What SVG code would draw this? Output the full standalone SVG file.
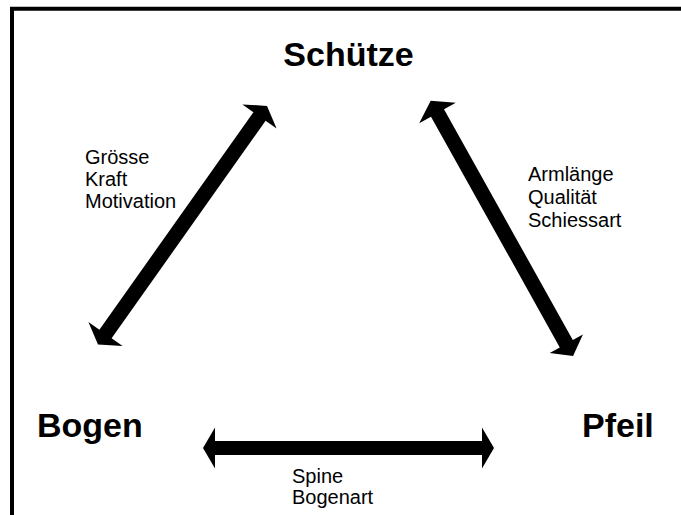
<svg xmlns="http://www.w3.org/2000/svg" width="681" height="515" viewBox="0 0 681 515">
<style>
.title{font-family:"Liberation Sans",Arial,sans-serif;font-size:34px;font-weight:bold;fill:#000}
.lbl{font-family:"Liberation Sans",Arial,sans-serif;font-size:20px;fill:#000}
.arrow{fill:#000;stroke:none}
</style>
<rect width="681" height="515" fill="#fff"/>
<path d="M12,515 V8.7 H681" fill="none" stroke="#000" stroke-width="4" stroke-linejoin="miter"/>
<g id="node-schuetze"><text class="title" x="348.5" y="66" text-anchor="middle">Schütze</text></g>
<g id="node-bogen"><text class="title" x="37" y="437">Bogen</text></g>
<g id="node-pfeil"><text class="title" x="582" y="437">Pfeil</text></g>
<g id="connectors">
<polygon class="arrow" points="267,105.9 276.6,128.6 265.6,120.8 111.6,338.3 122.6,346.1 98,344.6 88.4,321.9 99.4,329.7 253.4,112.2 242.4,104.4"/>
<polygon class="arrow" points="430.7,100.8 455.8,102.8 444,109.3 572.8,340 582.9,334.4 573.1,355.9 549.7,353 559.8,347.4 431,116.7 419.2,123.2"/>
<polygon class="arrow" points="203,448 215,427.5 215,441 482,441 482,427.5 494,448 482,468.5 482,455 215,455 215,468.5"/>
</g>
<g id="labels">
<text class="lbl" x="85" y="164">Grösse</text>
<text class="lbl" x="85" y="186">Kraft</text>
<text class="lbl" x="85" y="208">Motivation</text>
<text class="lbl" x="528" y="181">Armlänge</text>
<text class="lbl" x="528" y="204">Qualität</text>
<text class="lbl" x="528" y="227">Schiessart</text>
<text class="lbl" x="292" y="483">Spine</text>
<text class="lbl" x="292" y="504">Bogenart</text>
</g>
</svg>
